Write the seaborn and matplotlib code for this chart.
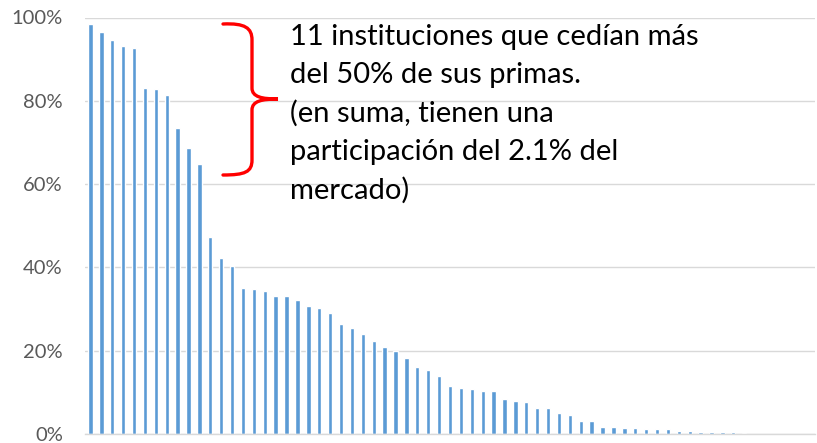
import matplotlib
matplotlib.use("Agg")
import matplotlib.pyplot as plt
from matplotlib.path import Path
from matplotlib.patches import PathPatch
import numpy as np
import pandas as pd
import seaborn as sns

# share of ceded premiums per institution, sorted (fraction)
cesion = [0.984, 0.966, 0.945, 0.931, 0.926, 0.831, 0.828, 0.813, 0.735, 0.687,
          0.649, 0.474, 0.423, 0.403, 0.351, 0.347, 0.343, 0.331, 0.331, 0.321,
          0.308, 0.302, 0.291, 0.264, 0.254, 0.241, 0.223, 0.210, 0.199, 0.182,
          0.160, 0.154, 0.140, 0.116, 0.110, 0.108, 0.103, 0.103, 0.085, 0.079,
          0.078, 0.062, 0.062, 0.050, 0.046, 0.031, 0.031, 0.018, 0.018, 0.015,
          0.014, 0.013, 0.012, 0.012, 0.008, 0.0065, 0.005, 0.004, 0.004, 0.004,
          0.0025, 0.001, 0.0008, 0.0006, 0.0005, 0.0004, 0.0003]
instituciones = list(range(1, len(cesion) + 1))

y_ticks = [0, 0.2, 0.4, 0.6, 0.8, 1.0]
y_labels = ["0%", "20%", "40%", "60%", "80%", "100%"]

nota = ["11 instituciones que cedían más",
        "del 50% de sus primas.",
        "(en suma, tienen una",
        "participación del 2.1% del",
        "mercado)"]

df = pd.DataFrame({"inst": instituciones, "cesion": cesion})

sns.set_style("white")
plt.rcParams["font.family"] = ["Lato", "DejaVu Sans"]

W, H = 817, 443
fig = plt.figure(figsize=(W / 100, H / 100), dpi=100)
ax = fig.add_axes([85 / W, 9 / H, 730 / W, 416.5 / H])

sns.barplot(data=df, x="inst", y="cesion", color="#5B9BD5", saturation=1,
            width=0.4, ax=ax)

ax.set_xlim(-0.5, len(cesion) - 0.5)
ax.set_ylim(0, 1.0)
ax.set_yticks(y_ticks)
ax.set_yticklabels(y_labels, fontsize=14.5, color="#595959")
ax.set_xticks([])
ax.set_xlabel("")
ax.set_ylabel("")
ax.tick_params(axis="y", length=0, pad=16)
ax.grid(axis="y", color="#D9D9D9", linewidth=1)
ax.set_axisbelow(True)
for side in ["top", "right", "left"]:
    ax.spines[side].set_visible(False)
ax.spines["bottom"].set_color("#D9D9D9")
ax.spines["bottom"].set_linewidth(1)

# red brace (figure pixel coords, y measured from top)
pts = [(223, 24), (245, 23), (252, 28), (252, 40),
       (252, 88),
       (252, 97), (262, 99), (278, 99),
       (262, 99), (252, 101), (252, 110),
       (252, 160),
       (252, 172), (245, 175), (223, 175)]
codes = [Path.MOVETO, Path.CURVE4, Path.CURVE4, Path.CURVE4,
         Path.LINETO,
         Path.CURVE4, Path.CURVE4, Path.CURVE4,
         Path.CURVE4, Path.CURVE4, Path.CURVE4,
         Path.LINETO,
         Path.CURVE4, Path.CURVE4, Path.CURVE4]
verts = [(x / W, 1 - y / H) for x, y in pts]
fig.patches.append(PathPatch(Path(verts, codes), transform=fig.transFigure,
                             fill=False, edgecolor="#FF0000", linewidth=2.4,
                             capstyle="round"))

# annotation text
for i, linea in enumerate(nota):
    fig.text(290 / W, 1 - (37 + i * 38.2) / H, linea, fontsize=21,
             color="black", ha="left", va="center")

fig.savefig("out.png", dpi=100)
